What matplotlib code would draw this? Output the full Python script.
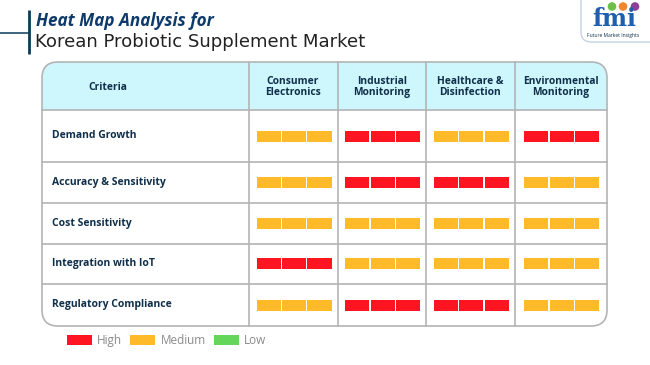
import matplotlib
matplotlib.use("Agg")
import matplotlib.pyplot as plt
from matplotlib.patches import FancyBboxPatch, Rectangle, Patch, Circle

plt.rcParams['font.family'] = ['Open Sans', 'DejaVu Sans']

# data
criteria = ["Demand Growth", "Accuracy & Sensitivity", "Cost Sensitivity",
            "Integration with IoT", "Regulatory Compliance"]
segments = ["Consumer\nElectronics", "Industrial\nMonitoring",
            "Healthcare &\nDisinfection", "Environmental\nMonitoring"]
consumer_electronics = ["Medium", "Medium", "Medium", "High", "Medium"]
industrial_monitoring = ["High", "High", "Medium", "Medium", "High"]
healthcare_disinfection = ["Medium", "High", "Medium", "Medium", "High"]
environmental_monitoring = ["High", "Medium", "Medium", "Medium", "Medium"]
levels = ["High", "Medium", "Low"]

columns = [consumer_electronics, industrial_monitoring,
           healthcare_disinfection, environmental_monitoring]
level_colors = {"High": "#ff1522", "Medium": "#ffba2a", "Low": "#66d65a"}

navy = "#0f2f4a"
grid = "#b4b4b4"

fig = plt.figure(figsize=(6.5, 3.65), dpi=100)
ax = fig.add_axes([0, 0, 1, 1])
ax.set_xlim(0, 650)
ax.set_ylim(365, 0)
ax.axis('off')

# title block
ax.plot([29, 29], [10, 54], color="#0b3b5b", lw=2, solid_capstyle='butt')
ax.plot([0, 29], [33, 33], color="#0b3b5b", lw=1.1)
ax.text(36, 20.5, "Heat Map Analysis for", fontsize=12.3, fontweight='bold',
        style='italic', color="#0d3a6b", va='center', ha='left')
ax.text(35, 42, "Korean Probiotic Supplement Market", fontsize=13.1,
        color="#222222", va='center', ha='left', family='DejaVu Sans')

# logo
ax.add_patch(FancyBboxPatch((581, -20), 90, 62,
                            boxstyle="round,pad=0,rounding_size=10",
                            fc="white", ec="#c3d2e2", lw=1))
ax.text(614, 18.5, "fmi", fontsize=17, fontweight='bold', family='DejaVu Serif',
        color="#1f5fae", ha='center', va='center')
for cx, cc in zip([612, 623, 635], ["#6cc04a", "#f0872a", "#8e3f97"]):
    ax.add_patch(Circle((cx, 6.5), 3.6, color=cc))
ax.text(613, 35.5, "Future Market Insights", fontsize=3.6, color=navy,
        ha='center', va='center')

# table layout
col_edges = [42, 248.5, 337.5, 426, 514.5, 607]
row_edges = [62, 110, 162, 203, 243.5, 284, 326]
x0, x1 = col_edges[0], col_edges[-1]
y0, y1 = row_edges[0], row_edges[-1]

frame = FancyBboxPatch((x0, y0), x1 - x0, y1 - y0,
                       boxstyle="round,pad=0,rounding_size=16",
                       fc="white", ec="none", zorder=1)
ax.add_patch(frame)
head = FancyBboxPatch((x0, y0), x1 - x0, y1 - y0,
                      boxstyle="round,pad=0,rounding_size=16",
                      fc="#cdf6fd", ec="none", zorder=2)
ax.add_patch(head)
clip = Rectangle((x0, y0), x1 - x0, row_edges[1] - y0, transform=ax.transData)
head.set_clip_path(clip)
border = FancyBboxPatch((x0, y0), x1 - x0, y1 - y0,
                        boxstyle="round,pad=0,rounding_size=16",
                        fc="none", ec=grid, lw=1.2, zorder=5)
ax.add_patch(border)

for y in row_edges[1:-1]:
    ax.plot([x0, x1], [y, y], color=grid, lw=1.2, zorder=4)
for x in col_edges[1:-1]:
    ax.plot([x, x], [y0, y1], color=grid, lw=1.2, zorder=4)

# headers
head_y = (row_edges[0] + row_edges[1]) / 2 + 1
ax.text(108, head_y, "Criteria", fontsize=7.4,
        fontweight='bold', color=navy, ha='center', va='center', zorder=6)
for j, name in enumerate(segments):
    cx = (col_edges[j + 1] + col_edges[j + 2]) / 2
    ax.text(cx, head_y, name, fontsize=7.4,
            fontweight='bold', color=navy, ha='center', va='center',
            linespacing=1.1, zorder=6)

# rows
bar_w = 75
gap = 1.4
seg_w = (bar_w - 2 * gap) / 3
bar_h = 11
for i, crit in enumerate(criteria):
    cy = (row_edges[i + 1] + row_edges[i + 2]) / 2
    ax.text(52, cy, crit, fontsize=7.5, fontweight='bold', color=navy,
            ha='left', va='center', zorder=6)
    for j, col in enumerate(columns):
        cx = (col_edges[j + 1] + col_edges[j + 2]) / 2 + 1
        left = cx - bar_w / 2
        xs = [left + k * (seg_w + gap) for k in range(3)]
        ax.bar(xs, bar_h, width=seg_w, bottom=cy - bar_h / 2, align='edge',
               color=level_colors[col[i]], zorder=6)

# legend
handles = [Patch(facecolor=level_colors[l], edgecolor='none', label=l) for l in levels]
leg = ax.legend(handles=handles, ncol=3, frameon=False, loc='center left',
                bbox_to_anchor=(67, 340.5), bbox_transform=ax.transData,
                fontsize=8.5, handlelength=2.1, handleheight=0.95,
                handletextpad=0.45, columnspacing=0.7, borderpad=0,
                borderaxespad=0)
for t in leg.get_texts():
    t.set_color("#8a8a8a")

fig.savefig("out.png", dpi=100)
